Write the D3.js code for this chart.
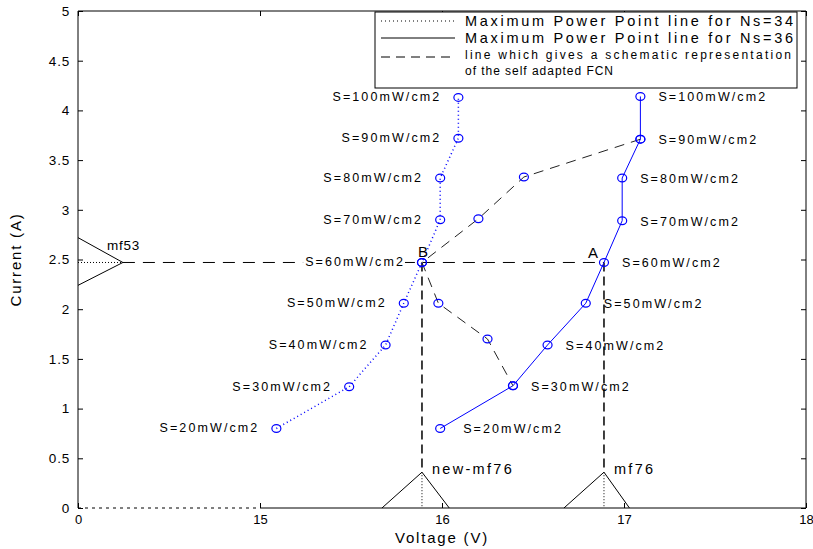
<!DOCTYPE html>
<html><head><meta charset="utf-8">
<script src="https://cdn.jsdelivr.net/npm/d3@7"></script>
<style>body{margin:0;background:#fff}svg{display:block}text{font-family:"Liberation Sans",Arial,sans-serif}</style>
</head><body><svg id="c" width="813" height="549"></svg>
<script>
// ---- data ----
const irradiance = [20,30,40,50,60,70,80,90,100];           // mW/cm2
const volt34 = [15.09,15.49,15.69,15.79,15.89,15.99,15.99,16.09,16.09];
const curr34 = [0.80,1.22,1.64,2.06,2.47,2.90,3.32,3.72,4.13];
const volt36 = [15.99,16.39,16.58,16.79,16.89,16.99,16.99,17.09,17.09];
const curr36 = [0.80,1.23,1.64,2.06,2.47,2.89,3.32,3.71,4.14];
const fcnVolt = [17.09,16.45,16.20,15.89,15.98,16.25,16.39];
const fcnCurr = [3.71,3.33,2.91,2.47,2.06,1.70,1.23];
const xTicks = [0,15,16,17,18];
const yTicks = [0,0.5,1,1.5,2,2.5,3,3.5,4,4.5,5];
const pointA = [16.89,2.47], pointB = [15.89,2.47];
const mf53 = {peakV:3.7, peakI:2.47, lowI:2.24, highI:2.72};
const mf76 = {left:16.67, peak:16.89, right:17.03, height:0.36};
const newMf76 = {left:15.67, peak:15.89, right:16.04, height:0.36};
const legendItems = ["Maximum Power Point line for Ns=34","Maximum Power Point line for Ns=36"];
const legendNote = ["line which gives a schematic representation","of the self adapted FCN"];

// ---- layout ----
const L=78, R=806, T=11, B=508;
const svg = d3.select("#c");
const x = d3.scaleLinear().domain(xTicks).range(xTicks.map((d,i)=>L+(R-L)*i/4));
const y = d3.scaleLinear().domain([0,5]).range([B,T]);
const blue="#0000ff";

// axes
const yAxisL = d3.axisLeft(y).tickValues(yTicks).tickSize(-5).tickPadding(8).tickFormat(d=>d);
const yAxisR = d3.axisRight(y).tickValues(yTicks).tickSize(-5).tickFormat("");
const xAxisB = d3.axisBottom(x).tickValues(xTicks).tickSize(-5).tickPadding(7).tickFormat(d=>d);
const xAxisT = d3.axisTop(x).tickValues(xTicks).tickSize(-5).tickFormat("");
function style(g,ls){g.select(".domain").remove();g.selectAll("text").attr("font-size",13.5).attr("letter-spacing",ls).attr("fill","#000");g.selectAll("line").attr("stroke","#000");}
svg.append("g").attr("transform",`translate(${L},0)`).call(yAxisL).call(style,0.8);
svg.append("g").attr("transform",`translate(${R},0)`).call(yAxisR).call(style,0);
svg.append("g").attr("transform",`translate(0,${B})`).call(xAxisB).call(style,0)
  .selectAll("text").attr("font-size",13);
svg.append("g").attr("transform",`translate(0,${T})`).call(xAxisT).call(style,0);
// frame
svg.append("line").attr("x1",L).attr("x2",L).attr("y1",T).attr("y2",B).attr("stroke","#000");
svg.append("line").attr("x1",R).attr("x2",R).attr("y1",T).attr("y2",B).attr("stroke","#000");
svg.append("line").attr("x1",L).attr("x2",R).attr("y1",T).attr("y2",T).attr("stroke","#000");
svg.append("line").attr("x1",x(15)).attr("x2",R).attr("y1",B).attr("y2",B).attr("stroke","#000");
svg.append("line").attr("x1",L).attr("x2",x(15)).attr("y1",B).attr("y2",B).attr("stroke","#000").attr("stroke-dasharray","3,4");

svg.append("text").attr("x",x(16)).attr("y",543).attr("text-anchor","middle").attr("font-size",15).attr("letter-spacing",1.8).text("Voltage (V)");
svg.append("text").attr("transform",`translate(21,${y(2.5)}) rotate(-90)`).attr("text-anchor","middle").attr("font-size",15).attr("letter-spacing",1.8).text("Current (A)");

const line = d3.line().x(d=>x(d[0])).y(d=>y(d[1]));

// reference dashed lines
svg.append("path").attr("d",line([[mf53.peakV,pointA[1]],pointA])).attr("fill","none").attr("stroke","#000").attr("stroke-dasharray","12,8");
[pointA,pointB].forEach(p=>{
  svg.append("path").attr("d",line([p,[p[0],mf76.height]])).attr("fill","none").attr("stroke","#000").attr("stroke-width",1.5).attr("stroke-dasharray","9,5");
});
// membership triangles
[newMf76,mf76].forEach(m=>{
  svg.append("path").attr("d",line([[m.left,0],[m.peak,m.height],[m.right,0]])).attr("fill","none").attr("stroke","#000");
  svg.append("path").attr("d",line([[m.peak,m.height],[m.peak,0]])).attr("fill","none").attr("stroke","#000").attr("stroke-dasharray","1,2");
});
svg.append("path").attr("d",line([[0,mf53.highI],[mf53.peakV,mf53.peakI],[0,mf53.lowI]])).attr("fill","none").attr("stroke","#000");
svg.append("path").attr("d",line([[0,mf53.peakI],[mf53.peakV,mf53.peakI]])).attr("fill","none").attr("stroke","#000").attr("stroke-dasharray","1,2");
svg.append("text").attr("x",x(mf53.peakV)-16).attr("y",y(mf53.highI)+12).attr("font-size",13.5).attr("letter-spacing",0.8).text("mf53");
svg.append("text").attr("x",x(newMf76.peak)+10).attr("y",y(newMf76.height)+2).attr("font-size",14.5).attr("letter-spacing",2.3).text("new-mf76");
svg.append("text").attr("x",x(mf76.peak)+10).attr("y",y(mf76.height)+2).attr("font-size",14.5).attr("letter-spacing",2.3).text("mf76");

// series
const s34 = irradiance.map((s,i)=>[volt34[i],curr34[i],s]);
const s36 = irradiance.map((s,i)=>[volt36[i],curr36[i],s]);
const fcn = fcnVolt.map((v,i)=>[v,fcnCurr[i]]);

// labels for Ns=34 (white background boxes)
const g34 = svg.selectAll("g.l34").data(s34).join("g").attr("class","l34");
g34.append("text")
  .attr("x",d=>x(d[0])-17).attr("y",d=>y(d[1])+4).attr("text-anchor","end")
  .attr("font-size",12.5).attr("letter-spacing",2.1).text(d=>`S=${d[2]}mW/cm2`);
g34.each(function(){
  const g=d3.select(this), bb=g.select("text").node().getBBox();
  g.insert("rect","text").attr("x",bb.x-2).attr("y",bb.y+1).attr("width",bb.width+2).attr("height",bb.height-2).attr("fill","#fff");
});

svg.append("path").attr("d",line(s34)).attr("fill","none").attr("stroke",blue).attr("stroke-width",1.5).attr("stroke-dasharray","1,3");
svg.append("path").attr("d",line(s36)).attr("fill","none").attr("stroke",blue).attr("stroke-width",1);
svg.append("path").attr("d",line(fcn)).attr("fill","none").attr("stroke","#222").attr("stroke-dasharray","10,7");
const markers = s34.concat(s36).concat(fcn);
svg.selectAll("ellipse.m").data(markers).join("ellipse").attr("class","m")
  .attr("cx",d=>x(d[0])).attr("cy",d=>y(d[1])).attr("rx",4.5).attr("ry",3.8)
  .attr("fill","none").attr("stroke",blue).attr("stroke-width",1.2);

svg.selectAll("text.l36").data(s36).join("text").attr("class","l36")
  .attr("x",d=>x(d[0])+(d[2]===20?23:18)).attr("y",d=>y(d[1])+5).attr("text-anchor","start")
  .attr("font-size",12.5).attr("letter-spacing",2.1).text(d=>`S=${d[2]}mW/cm2`);
svg.append("text").attr("x",x(pointB[0])-4).attr("y",y(pointB[1])-5).attr("font-size",15).text("B");
svg.append("text").attr("x",x(pointA[0])-16).attr("y",y(pointA[1])-4).attr("font-size",15).text("A");

// legend
const lg = svg.append("g");
lg.append("rect").attr("x",375).attr("y",12).attr("width",422).attr("height",76).attr("fill","#fff").attr("stroke","#000");
const legStyles = [{dash:"1,3",w:1},{dash:null,w:1}];
legendItems.forEach((t,i)=>{
  const yy = 21+i*17;
  lg.append("line").attr("x1",381).attr("x2",455).attr("y1",yy).attr("y2",yy).attr("stroke","#000").attr("stroke-width",legStyles[i].w).attr("stroke-dasharray",legStyles[i].dash);
  lg.append("text").attr("x",465).attr("y",yy+5).attr("font-size",14.5).attr("textLength",328).attr("lengthAdjust","spacing").text(t);
});
lg.append("line").attr("x1",381).attr("x2",455).attr("y1",57).attr("y2",57).attr("stroke","#000").attr("stroke-dasharray","9,6");
lg.append("text").attr("x",465).attr("y",59).attr("font-size",12).attr("textLength",326).attr("lengthAdjust","spacing").text(legendNote[0]);
lg.append("text").attr("x",465).attr("y",75).attr("font-size",12).attr("textLength",148).attr("lengthAdjust","spacing").text(legendNote[1]);
</script></body></html>
